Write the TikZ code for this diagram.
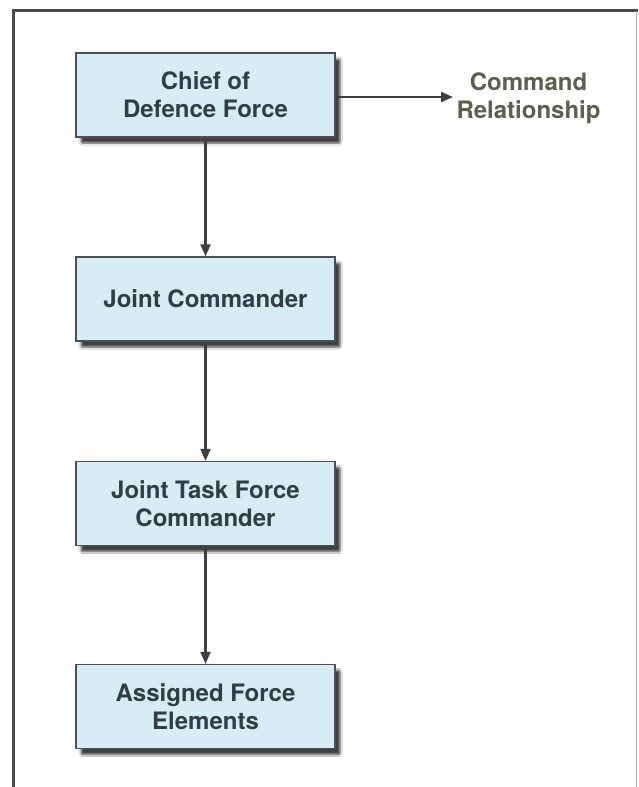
\documentclass[tikz,border=0pt]{standalone}
\usepackage{fontspec}
\setmainfont{TeX Gyre Heros}
\usetikzlibrary{arrows.meta,shadows.blur}
\definecolor{boxfill}{HTML}{D7EDF6}
\definecolor{boxedge}{HTML}{4A5055}
\definecolor{boxtext}{HTML}{2F3E47}
\definecolor{labeltext}{HTML}{5E5F50}
\definecolor{linecol}{HTML}{3C3F42}
\definecolor{framecol}{HTML}{4A4A4A}
\tikzset{
  rankbox/.style={draw=boxedge, line width=1.3pt, fill=boxfill,
    minimum width=259pt, minimum height=84pt, align=center,
    text=boxtext, font=\fontsize{24}{28}\selectfont\bfseries,
    blur shadow={shadow xshift=5pt, shadow yshift=-6pt,
      shadow blur steps=6, shadow blur extra rounding=1pt,
      shadow opacity=75}},
  relarrow/.style={draw=linecol, line width=2.1pt,
    -{Triangle[length=12pt,width=10pt]}},
  reltext/.style={text=labeltext, align=center,
    font=\fontsize{24}{28}\selectfont\bfseries}
}
\begin{document}
\begin{tikzpicture}[x=1pt,y=-1pt]
  \useasboundingbox (0,0) rectangle (638,787);
  \fill[white] (0,0) rectangle (638,787);
  % outer frame: heavy top and left rules, light right rule
  \draw[framecol, line width=3pt] (13.5,787) -- (13.5,10.5) -- (638,10.5);
  \draw[gray!60, line width=1pt] (636.5,10.5) -- (636.5,787);

  \node[rankbox] (cdf) at (205.5,95) {Chief of\\Defence Force};
  \node[rankbox] (jc)  at (205.5,299) {Joint Commander};
  \node[rankbox] (jtf) at (205.5,503.5) {Joint Task Force\\Commander};
  \node[rankbox] (afe) at (205.5,706.5) {Assigned Force\\Elements};

  \node[reltext, anchor=west] (rel) at (453,98) {Command\\Relationship};

  \draw[relarrow] (cdf.east |- 0,97) -- (rel.west |- 0,97);
  \draw[relarrow] (cdf.south) -- (jc.north);
  \draw[relarrow] (jc.south) -- (jtf.north);
  \draw[relarrow] (jtf.south) -- (afe.north);
\end{tikzpicture}
\end{document}
